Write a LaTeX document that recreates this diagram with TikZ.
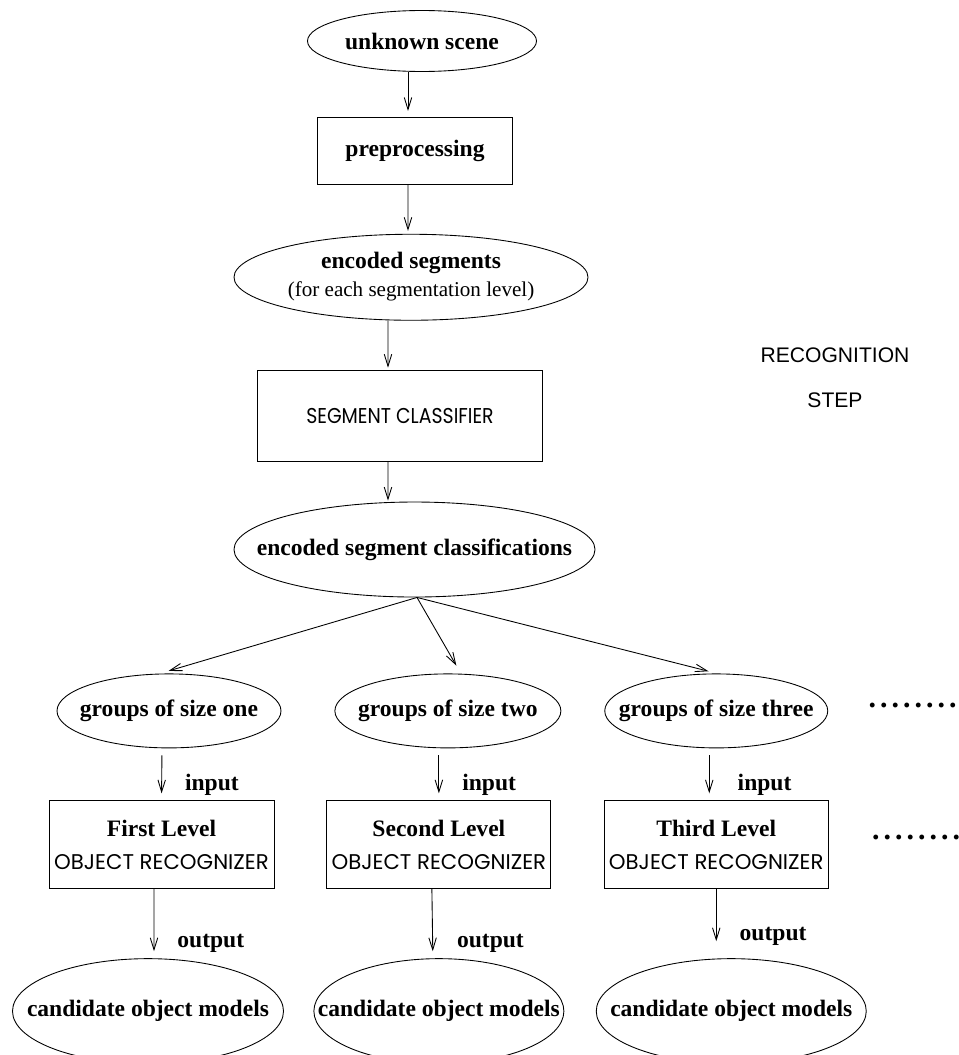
\documentclass[tikz,border=0pt]{standalone}
\usepackage{fontspec}
\setmainfont{Liberation Serif}
\setsansfont{Liberation Sans}
\newfontfamily\geofont{Poppins}
\usepackage{tikz}
\usetikzlibrary{arrows.meta, positioning, shapes.geometric}
\newcommand{\tightlbl}[1]{\makebox[0pt]{#1}}
\newcommand{\onedot}{\hbox to 0.23cm{.\hss}}
\newcommand{\dotrun}{\onedot\onedot\onedot\onedot\onedot\onedot\onedot.}

\begin{document}
\begin{tikzpicture}[
    node distance=1cm and 1cm,
    blob/.style={
        ellipse,
        draw,
        line width=0.5pt,
        inner sep=0pt,
        align=center,
        font=\fontsize{13.4}{16}\selectfont\bfseries
    },
    stagebox/.style={
        rectangle,
        draw,
        line width=0.5pt,
        inner sep=0pt,
        align=center,
        font=\fontsize{13.4}{16}\selectfont\bfseries
    },
    tag/.style={
        inner sep=0pt,
        anchor=west,
        font=\fontsize{13.4}{16}\selectfont\bfseries
    },
    more/.style={
        inner sep=0pt,
        font=\fontsize{17}{18}\selectfont\bfseries
    },
    arrow/.style={-{Straight Barb[length=2.4mm, width=1.5mm]}, line width=0.5pt}
]
\useasboundingbox (0,0) rectangle (19.18,-21.1);

% main column
\node[blob, minimum width=4.58cm, minimum height=1.22cm] (scene) at (8.44,-0.82) {\tightlbl{unknown scene}};
\node[stagebox, minimum width=3.9cm, minimum height=1.34cm, below=0.9cm of scene, xshift=-0.14cm] (prep) {preprocessing};
\node[blob, minimum width=7.08cm, minimum height=1.72cm, below=0.98cm of prep, xshift=-0.08cm] (enc)
    {\tightlbl{\begin{tabular}{@{}c@{}}encoded segments\\
     {\fontsize{12}{14}\selectfont\mdseries (for each segmentation level)}\end{tabular}}};
\node[stagebox, minimum width=5.7cm, minimum height=1.82cm, below=0.98cm of enc, xshift=-0.22cm,
    font=\geofont\fontsize{12.2}{15}\selectfont] (clf) {\scalebox{0.88}[1]{SEGMENT CLASSIFIER}};
\node[blob, minimum width=7.22cm, minimum height=1.9cm, below=0.8cm of clf, xshift=0.29cm] (cls)
    {\tightlbl{encoded segment classifications}};
\draw[arrow, shorten >=0.12cm] ([xshift=-0.28cm]scene.south) -- ([xshift=-0.14cm]prep.north);
\draw[arrow, shorten >=0.06cm] ([xshift=-0.14cm]prep.south) -- ([xshift=-0.06cm]enc.north);
\draw[arrow, shorten >=0.04cm] ([xshift=-0.46cm]enc.south) -- ([xshift=-0.24cm]clf.north);
\draw[arrow, shorten >=0.02cm] ([xshift=-0.24cm]clf.south) -- ([xshift=-0.53cm]cls.north);

\node[font=\sffamily\fontsize{12}{25.5}\selectfont, align=center] (step) at (16.7,-7.55) {RECOGNITION\\STEP};

% groups row
\node[blob, minimum width=4.48cm, minimum height=1.48cm, below=1.52cm of cls, xshift=-4.91cm] (one) {\tightlbl{groups of size one}};
\node[blob, minimum width=4.52cm, minimum height=1.48cm, right=1.06cm of one] (two) {\tightlbl{groups of size two}};
\node[blob, minimum width=4.46cm, minimum height=1.48cm, right=0.86cm of two] (three) {\tightlbl{groups of size three}};
\node[more, right=0.8cm of three, yshift=0.1cm] (more1) {\dotrun};
\draw[arrow, shorten >=0.18cm] ([xshift=0.05cm]cls.south) -- ([xshift=-0.18cm]one.north);
\draw[arrow, shorten >=0.18cm] ([xshift=0.05cm]cls.south) -- ([xshift=0.26cm]two.north);
\draw[arrow, shorten >=0.18cm] ([xshift=0.05cm]cls.south) -- ([xshift=0.02cm]three.north);

% recognizer row
\node[stagebox, minimum width=4.5cm, minimum height=1.76cm, below=1.04cm of one, xshift=-0.15cm] (lv1)
    {First Level\\[3pt]{\geofont\mdseries\fontsize{12.1}{14}\selectfont OBJECT RECOGNIZER}};
\node[stagebox, minimum width=4.48cm, minimum height=1.76cm, below=1.04cm of two, xshift=-0.18cm] (lv2)
    {Second Level\\[3pt]{\geofont\mdseries\fontsize{12.1}{14}\selectfont OBJECT RECOGNIZER}};
\node[stagebox, minimum width=4.48cm, minimum height=1.76cm, below=1.04cm of three] (lv3)
    {Third Level\\[3pt]{\geofont\mdseries\fontsize{12.1}{14}\selectfont OBJECT RECOGNIZER}};
\node[more, right=0.86cm of lv3, yshift=0.14cm] (more2) {\dotrun};
\draw[arrow, shorten <=0.14cm, shorten >=0.14cm] ([xshift=-0.14cm]one.south) -- (lv1.north)
    node[tag, pos=0.71, xshift=0.46cm] (in1) {input};
\draw[arrow, shorten <=0.14cm, shorten >=0.14cm] ([xshift=-0.18cm]two.south) -- (lv2.north)
    node[tag, pos=0.71, xshift=0.46cm] (in2) {input};
\draw[arrow, shorten <=0.14cm, shorten >=0.14cm] ([xshift=-0.14cm]three.south) -- ([xshift=-0.14cm]lv3.north)
    node[tag, pos=0.71, xshift=0.56cm] (in3) {input};

% candidates row
\node[blob, minimum width=5.42cm, minimum height=2.1cm, below=1.38cm of lv1, xshift=-0.27cm] (c1) {\tightlbl{candidate object models}};
\node[blob, minimum width=5.0cm, minimum height=2.1cm, below=1.38cm of lv2] (c2) {\tightlbl{candidate object models}};
\node[blob, minimum width=5.4cm, minimum height=2.1cm, below=1.38cm of lv3, xshift=0.3cm] (c3) {\tightlbl{candidate object models}};
\draw[arrow, shorten >=0.14cm] ([xshift=-0.15cm]lv1.south) -- ([xshift=0.12cm]c1.north)
    node[tag, pos=0.78, xshift=0.46cm] (out1) {output};
\draw[arrow, shorten >=0.14cm] ([xshift=-0.14cm]lv2.south) -- ([xshift=-0.12cm]c2.north)
    node[tag, pos=0.78, xshift=0.48cm] (out2) {output};
\draw[arrow, shorten >=0.34cm] (lv3.south) -- ([xshift=-0.3cm]c3.north)
    node[tag, pos=0.68, xshift=0.46cm] (out3) {output};

\end{tikzpicture}
\end{document}
